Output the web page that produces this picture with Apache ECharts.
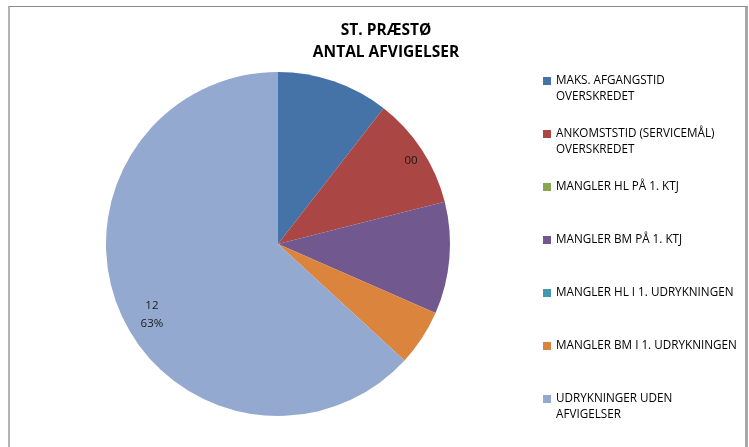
<!DOCTYPE html>
<html>
<head>
<meta charset="utf-8">
<script src="https://cdn.jsdelivr.net/npm/echarts@6/dist/echarts.min.js"></script>
<style>
  html, body { margin: 0; padding: 0; background: #fff; }
  #frame {
    position: absolute; left: 8px; top: 6px; width: 735px; height: 460px;
    border-left: 2px solid #b4b4b4; border-top: 1px solid #8a8a8a; border-right: 3px solid #a8a8a8;
  }
  #main { position: absolute; left: 0; top: 0; width: 749px; height: 447px; }
</style>
</head>
<body>
<div id="frame"></div>
<div id="main"></div>
<script>
// Data
const categories = [
    'MAKS. AFGANGSTID\nOVERSKREDET',
    'ANKOMSTSTID (SERVICEMÅL)\nOVERSKREDET',
    'MANGLER HL PÅ 1. KTJ',
    'MANGLER BM PÅ 1. KTJ',
    'MANGLER HL I 1. UDRYKNINGEN',
    'MANGLER BM I 1. UDRYKNINGEN',
    'UDRYKNINGER UDEN\nAFVIGELSER'
];
const counts = [2, 2, 0, 2, 0, 1, 12];
const colors = ['#4572A7', '#AA4643', '#89A54E', '#71588F', '#4198AF', '#DB843D', '#93A9CF'];
const titleLines = ['ST. PRÆSTØ', 'ANTAL AFVIGELSER'];

const FONT = '"Open Sans", "Liberation Sans", sans-serif';
const total = counts.reduce((a, b) => a + b, 0);
const LAST = counts.length - 1;

// the two zero-value labels land on top of each other inside the red slice
function labelText(p) {
    if (p.dataIndex === 1) {
        return counts.filter(v => v === 0).join('');
    }
    if (p.dataIndex === LAST) {
        // leading blank line pushes the text half a line down, like Excel
        return '\n' + p.value + '\n' + Math.round(p.value / total * 100) + '%';
    }
    return '';
}

// every legend entry is three lines tall, icon sits on the first text line
function legendText(name) {
    return name.indexOf('\n') >= 0 ? '\n' + name : '\n' + name + '\n';
}

const pieData = categories.map((name, i) => ({ name, value: counts[i], itemStyle: { color: colors[i] } }));

// label nudges (Excel puts them a bit off the slice middle)
const labelPads = { 1: [0, 0, 0, 10], [LAST]: [0, 0, 0, 28] };
const ringData = categories.map((name, i) => {
    const item = { name, value: counts[i] };
    if (labelPads[i]) item.label = { padding: labelPads[i] };
    return item;
});

const chart = echarts.init(document.getElementById('main'), null, { renderer: 'canvas' });

chart.setOption({
    animation: false,
    title: {
        text: titleLines.join('\n'),
        left: 381,
        top: 15,
        textAlign: 'center',
        textStyle: { fontFamily: FONT, fontWeight: 'bold', fontSize: 15.5, lineHeight: 22, color: '#000' }
    },
    legend: {
        orient: 'vertical',
        left: 543,
        top: 57,
        padding: 0,
        itemWidth: 8,
        itemHeight: 8,
        itemGap: 5,
        icon: 'rect',
        selectedMode: false,
        formatter: legendText,
        data: categories,
        textStyle: { fontFamily: FONT, fontSize: 11.7, lineHeight: 16, color: '#000' }
    },
    series: [
        {
            type: 'pie',
            center: [278, 244],
            radius: [0, 172],
            startAngle: 90,
            clockwise: true,
            silent: true,
            label: { show: false },
            labelLine: { show: false },
            data: pieData
        },
        {
            // transparent ring only used to place the data labels near the rim
            type: 'pie',
            center: [278, 244],
            radius: [128, 172],
            startAngle: 90,
            clockwise: true,
            silent: true,
            itemStyle: { color: 'rgba(0,0,0,0)' },
            label: {
                show: true,
                position: 'inside',
                formatter: labelText,
                fontFamily: FONT,
                fontSize: 11.5,
                lineHeight: 18,
                color: '#1a1a1a'
            },
            labelLine: { show: false },
            data: ringData
        }
    ]
});
</script>
</body>
</html>
